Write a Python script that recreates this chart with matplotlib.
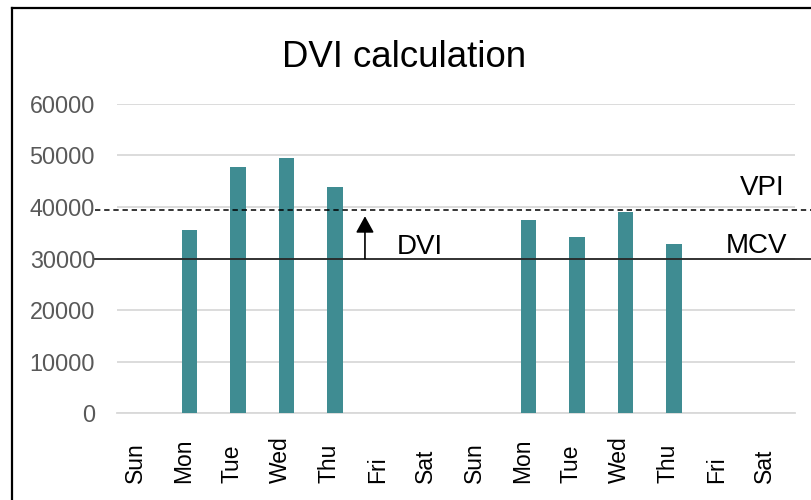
import matplotlib
matplotlib.use("Agg")
import matplotlib.pyplot as plt
from matplotlib.lines import Line2D
from matplotlib.transforms import ScaledTranslation

plt.rcParams['font.family'] = ['Liberation Sans', 'DejaVu Sans']

days = ["Sun", "Mon", "Tue", "Wed", "Thu", "Fri", "Sat",
        "Sun", "Mon", "Tue", "Wed", "Thu", "Fri", "Sat"]
values = [0, 35500, 47800, 49500, 43800, 0, 0,
          0, 37400, 34200, 39000, 32900, 0, 0]
yticks = [0, 10000, 20000, 30000, 40000, 50000, 60000]
mcv = 30000
vpi = 39400
arrow_x = 4.62
arrow_top = 38200

W, H = 812, 500
fig = plt.figure(figsize=(W / 100, H / 100), dpi=100)
ax = fig.add_axes([117 / W, 1 - 413.3 / H, 678 / W, (413.3 - 103.8) / H])

x = list(range(len(days)))
ax.bar(x, values, width=0.32, color="#3F8C92", zorder=3)

ax.set_xlim(-0.5, len(days) - 0.5)
ax.set_ylim(0, 60000)
ax.set_yticks(yticks)
ax.set_yticklabels([str(v) for v in yticks])
ax.grid(axis="y", color="#D9D9D9", linewidth=1.3, zorder=0)
for s in ["top", "right", "left"]:
    ax.spines[s].set_visible(False)
ax.spines["bottom"].set_color("#D9D9D9")
ax.spines["bottom"].set_linewidth(1.3)

ax.tick_params(axis="y", length=0, pad=15.8, labelsize=16.8, labelcolor="#595959")
ax.tick_params(axis="x", length=0, pad=50.4, labelsize=16.5, labelcolor="#000000")
ax.set_xticks(x)
ax.set_xticklabels(days, rotation=90, va="bottom", ha="center")
off = ScaledTranslation(-6 / 100, 0, fig.dpi_scale_trans)
for lab in ax.get_xticklabels():
    lab.set_transform(lab.get_transform() + off)

# reference lines extending beyond the plot area
x0 = (95 - 117) / 678
x1 = (815 - 117) / 678
ax.axhline(vpi, xmin=x0, xmax=x1, color="black", linewidth=1.1,
           linestyle=(0, (3.5, 2.5)), clip_on=False, zorder=4)
ax.axhline(mcv, xmin=x0, xmax=x1, color="#262626", linewidth=1.3,
           clip_on=False, zorder=4)

# DVI arrow
ax.annotate("", xy=(arrow_x, arrow_top), xytext=(arrow_x, mcv),
            arrowprops=dict(arrowstyle="-|>,head_width=0.55,head_length=1.0",
                            color="black", lw=1.2, shrinkA=0, shrinkB=0),
            zorder=5)
ax.text(5.285, mcv, "DVI", fontsize=20, ha="left", va="baseline",
        transform=ax.transData + ScaledTranslation(0, 5 / 100, fig.dpi_scale_trans))
fig.text(787 / W, 1 - 253 / H, "MCV", fontsize=20, ha="right", va="baseline")
fig.text(785 / W, 1 - 195 / H, "VPI", fontsize=20, ha="right", va="baseline")

fig.text(404 / W, 1 - 67 / H, "DVI calculation", fontsize=26.4,
         ha="center", va="baseline")

# chart-area border (cropped at right and bottom)
fig.add_artist(Line2D([12 / W, 12 / W], [0, 1 - 8 / H], color="black",
                      linewidth=1.6, transform=fig.transFigure))
fig.add_artist(Line2D([12 / W, 1.0], [1 - 8 / H, 1 - 8 / H], color="black",
                      linewidth=1.6, transform=fig.transFigure))

fig.savefig("out.png", dpi=100)
